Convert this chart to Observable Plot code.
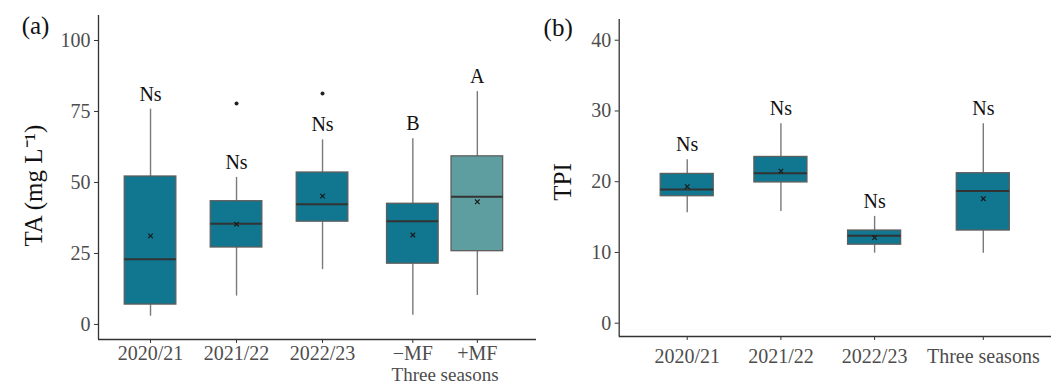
<!DOCTYPE html>
<html>
<head>
<meta charset="utf-8">
<script src="https://cdn.jsdelivr.net/npm/d3@7"></script>
<script src="https://cdn.jsdelivr.net/npm/@observablehq/plot@0.6"></script>
<style>
  body { margin: 0; background: #fff; }
  #chart { position: relative; width: 1051px; height: 384px; overflow: hidden; }
  #chart svg { position: absolute; top: 0; }
</style>
</head>
<body>
<div id="chart"></div>
<script>
// ---- Panel (a): TA (mg L-1) by season and by manure treatment ----
const taGroups   = ["2020/21", "2021/22", "2022/23", "−MF", "+MF"];
const taPosition = [1, 2, 3, 4.05, 4.8];
const taLower    = [2.9, 10.0, 19.3, 3.2, 10.2];
const taQ1       = [7.0, 27.1, 36.2, 21.4, 25.8];
const taMedian   = [23.0, 35.5, 42.3, 36.3, 45.0];
const taQ3       = [52.1, 43.4, 53.5, 42.5, 59.2];
const taUpper    = [75.8, 51.8, 65.0, 65.4, 82.0];
const taMean     = [31.2, 35.3, 45.2, 31.5, 43.2];
const taLetters  = ["Ns", "Ns", "Ns", "B", "A"];
const taOutlierGroup = ["2021/22", "2022/23"];
const taOutlierValue = [77.8, 81.3];
const taTicks    = [0, 25, 50, 75, 100];

// ---- Panel (b): TPI by season and over all three seasons ----
const tpiGroups   = ["2020/21", "2021/22", "2022/23", "Three seasons"];
const tpiPosition = [1, 2, 3, 4.16];
const tpiLower    = [15.6, 15.8, 9.9, 9.9];
const tpiQ1       = [17.95, 19.9, 11.1, 13.1];
const tpiMedian   = [18.9, 21.2, 12.35, 18.7];
const tpiQ3       = [21.1, 23.5, 13.1, 21.2];
const tpiUpper    = [23.1, 28.2, 15.1, 28.2];
const tpiMean     = [19.3, 21.5, 12.1, 17.6];
const tpiLetters  = ["Ns", "Ns", "Ns", "Ns"];
const tpiTicks    = [0, 10, 20, 30, 40];

const FILL = "#11768f";
const FILL_MF = "#5f9ea0";
const INK = "#111";
const TICK_TEXT = "#4d4d4d";
const AXIS = "#333";

function rowsOf(groups, pos, lower, q1, med, q3, upper, mean, letters) {
  return groups.map((g, i) => ({
    group: g, pos: pos[i], lower: lower[i], q1: q1[i], median: med[i],
    q3: q3[i], upper: upper[i], mean: mean[i], letter: letters[i]
  }));
}

function boxPanel(o) {
  const {rows, outliers, ticks, groups, positions, xDomain, yDomain, width, margin,
         half, yLabel, tag, tagDx, tagDy, titleDx, titleDy, tickPadX, extra = []} = o;
  return Plot.plot({
    width, height: 384,
    marginLeft: margin.left, marginRight: 0, marginTop: margin.top, marginBottom: margin.bottom,
    style: {fontFamily: "'Liberation Serif', 'Times New Roman', serif", background: "transparent"},
    x: {type: "linear", domain: xDomain},
    y: {domain: yDomain},
    marks: [
      // whiskers
      Plot.ruleX(rows, {x: "pos", y1: "lower", y2: "q1", stroke: "#7a7a7a", strokeWidth: 1.4}),
      Plot.ruleX(rows, {x: "pos", y1: "q3", y2: "upper", stroke: "#7a7a7a", strokeWidth: 1.4}),
      // interquartile boxes
      Plot.rect(rows, {
        x1: d => d.pos - half, x2: d => d.pos + half, y1: "q1", y2: "q3",
        fill: d => d.group === "+MF" ? FILL_MF : FILL, stroke: "#5e5e5e", strokeWidth: 1.3
      }),
      // medians
      Plot.ruleY(rows, {y: "median", x1: d => d.pos - half, x2: d => d.pos + half, stroke: "#333", strokeWidth: 2}),
      // means
      Plot.dot(rows, {x: "pos", y: "mean", symbol: "times", r: 2.2, stroke: "#1a1a1a", strokeWidth: 1.2}),
      // outliers
      Plot.dot(outliers, {x: "pos", y: "value", r: 2, fill: "#222", stroke: null}),
      // significance letters
      Plot.text(rows, {x: "pos", y: "upper", text: "letter", dy: -15, fontSize: 20, fill: INK}),
      // axes
      Plot.axisY({ticks, tickSize: 4, tickPadding: 4, fontSize: 20, fill: TICK_TEXT, stroke: AXIS, label: null}),
      Plot.axisX({
        ticks: positions, tickFormat: d => groups[positions.indexOf(d)],
        tickSize: 4, tickPadding: tickPadX, fontSize: 20, fill: TICK_TEXT, stroke: AXIS, label: null
      }),
      Plot.ruleX([xDomain[0]], {stroke: AXIS, strokeWidth: 1.3}),
      Plot.ruleY([yDomain[0]], {stroke: AXIS, strokeWidth: 1.3}),
      // panel tag and y title
      Plot.text([tag], {
        text: d => d, frameAnchor: "top-left", textAnchor: "middle", lineAnchor: "middle",
        dx: tagDx, dy: tagDy, fontSize: 25, fill: INK
      }),
      Plot.text([yLabel], {
        text: d => d, frameAnchor: "left", textAnchor: "middle", lineAnchor: "middle",
        rotate: -90, dx: titleDx, dy: titleDy, fontSize: 25, fill: INK
      }),
      ...extra
    ]
  });
}

const taRows = rowsOf(taGroups, taPosition, taLower, taQ1, taMedian, taQ3, taUpper, taMean, taLetters);
const taOutliers = taOutlierGroup.map((g, i) => ({pos: taPosition[taGroups.indexOf(g)], value: taOutlierValue[i]}));
const tpiRows = rowsOf(tpiGroups, tpiPosition, tpiLower, tpiQ1, tpiMedian, tpiQ3, tpiUpper, tpiMean, tpiLetters);

const panelA = boxPanel({
  rows: taRows, outliers: taOutliers, ticks: taTicks, groups: taGroups, positions: taPosition,
  xDomain: [0.395, 5.488], yDomain: [-5.3, 108.8], width: 536,
  margin: {left: 98, top: 15, bottom: 45}, half: 0.3,
  yLabel: "TA (mg L⁻¹)", tag: "(a)", tagDx: -63, tagDy: 10, titleDx: -65, titleDy: 8, tickPadX: 2,
  extra: [
    // shared caption under the two manure treatments
    Plot.text(["Three seasons"], {
      text: d => d, x: () => (taPosition[3] + taPosition[4]) / 2,
      frameAnchor: "bottom", textAnchor: "middle", lineAnchor: "bottom",
      dy: 41, fontSize: 19, fill: TICK_TEXT
    })
  ]
});

const panelB = boxPanel({
  rows: tpiRows, outliers: [], ticks: tpiTicks, groups: tpiGroups, positions: tpiPosition,
  xDomain: [0.274, 4.888], yDomain: [-1.88, 42.93], width: 531,
  margin: {left: 98.7, top: 19, bottom: 48}, half: 0.283,
  yLabel: "TPI", tag: "(b)", tagDx: -61, tagDy: 8, titleDx: -56, titleDy: 4, tickPadX: 8.5
});

const chart = document.getElementById("chart");
panelB.style.left = "520px";
panelA.style.left = "0px";
chart.appendChild(panelB);
chart.appendChild(panelA);
</script>
</body>
</html>
